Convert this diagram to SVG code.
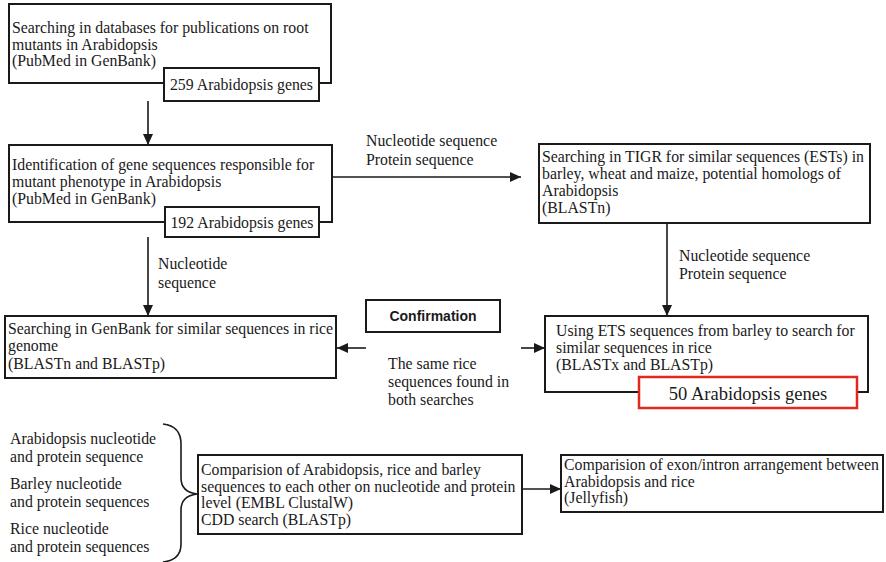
<svg xmlns="http://www.w3.org/2000/svg" width="886" height="562" viewBox="0 0 886 562">
<style>
.box{fill:#fff;stroke:#1a1a1a;stroke-width:2}
.red{fill:#fff;stroke:#e02a1e;stroke-width:2.5}
.t{font-family:"Liberation Serif","Times New Roman",serif;font-size:15.8px;fill:#1a1a1a}
.big{font-family:"Liberation Serif","Times New Roman",serif;font-size:18.5px;fill:#1a1a1a}
.b{font-family:"Liberation Sans",Arial,sans-serif;font-size:14px;font-weight:bold;fill:#1a1a1a}
.c{stroke:#1a1a1a;stroke-width:1.6;fill:none}
</style>
<defs>
<marker id="ah" markerUnits="userSpaceOnUse" markerWidth="11" markerHeight="10" refX="11" refY="5" orient="auto">
<path d="M0,0 L11,5 L0,10 z" fill="#1a1a1a"/>
</marker>
</defs>

<g id="connectors">
<line class="c" x1="148" y1="101" x2="148" y2="145" marker-end="url(#ah)"/>
<line class="c" x1="332" y1="177" x2="521" y2="177" marker-end="url(#ah)"/>
<line class="c" x1="148" y1="237" x2="148" y2="316" marker-end="url(#ah)"/>
<line class="c" x1="667" y1="223" x2="667" y2="316" marker-end="url(#ah)"/>
<line class="c" x1="366" y1="348" x2="337" y2="348" marker-end="url(#ah)"/>
<line class="c" x1="521" y1="348" x2="545" y2="348" marker-end="url(#ah)"/>
<line class="c" x1="522" y1="489" x2="561" y2="489" marker-end="url(#ah)"/>
<path class="c" d="M163 424 Q181 426 181 444 L181 478 Q181 492 197 494 Q181 496 181 510 L181 544 Q181 560 163 562"/>
</g>

<g id="n1">
<rect class="box" x="9" y="4" width="322" height="79"/>
<text class="t" x="12" y="33">Searching in databases for publications on root</text>
<text class="t" x="12" y="50">mutants in Arabidopsis</text>
<text class="t" x="12" y="66">(PubMed in GenBank)</text>
</g>
<g id="n1b">
<rect class="box" x="164" y="68" width="155" height="33"/>
<text class="t" x="241.5" y="90" text-anchor="middle">259 Arabidopsis genes</text>
</g>

<g id="n2">
<rect class="box" x="9" y="145" width="323" height="77"/>
<text class="t" x="12" y="170">Identification of gene sequences responsible for</text>
<text class="t" x="12" y="187">mutant phenotype in Arabidopsis</text>
<text class="t" x="12" y="204">(PubMed in GenBank)</text>
</g>
<g id="n2b">
<rect class="box" x="165" y="207" width="154" height="30"/>
<text class="t" x="242" y="228" text-anchor="middle">192 Arabidopsis genes</text>
</g>

<g id="l1">
<text class="t" x="366" y="146">Nucleotide sequence</text>
<text class="t" x="366" y="165">Protein sequence</text>
</g>

<g id="n3">
<rect class="box" x="539" y="144" width="331" height="79"/>
<text class="t" x="542" y="162">Searching in TIGR for similar sequences (ESTs) in</text>
<text class="t" x="542" y="179">barley, wheat and maize, potential homologs of</text>
<text class="t" x="542" y="196">Arabidopsis</text>
<text class="t" x="542" y="213">(BLASTn)</text>
</g>

<g id="l2">
<text class="t" x="679" y="261">Nucleotide sequence</text>
<text class="t" x="679" y="279">Protein sequence</text>
</g>

<g id="l3">
<text class="t" x="158" y="269">Nucleotide</text>
<text class="t" x="158" y="288">sequence</text>
</g>

<g id="n4">
<rect class="box" x="5" y="316" width="331" height="62"/>
<text class="t" x="8" y="334">Searching in GenBank for similar sequences in rice</text>
<text class="t" x="8" y="351">genome</text>
<text class="t" x="8" y="369">(BLASTn and BLASTp)</text>
</g>

<g id="confirm">
<rect class="box" x="366" y="300" width="134" height="32"/>
<text class="b" x="433" y="321" text-anchor="middle">Confirmation</text>
</g>

<g id="l4">
<text class="t" x="388" y="369">The same rice</text>
<text class="t" x="388" y="387">sequences found in</text>
<text class="t" x="388" y="405">both searches</text>
</g>

<g id="n5">
<rect class="box" x="545" y="316" width="323" height="76"/>
<text class="t" x="556" y="336">Using ETS sequences from barley to search for</text>
<text class="t" x="556" y="353">similar sequences in rice</text>
<text class="t" x="556" y="370">(BLASTx and BLASTp)</text>
</g>
<g id="n5b">
<rect class="red" x="639" y="377" width="218" height="31"/>
<text class="big" x="748" y="400" text-anchor="middle">50 Arabidopsis genes</text>
</g>

<g id="inputs">
<text class="t" x="10" y="444">Arabidopsis nucleotide</text>
<text class="t" x="10" y="462">and protein sequence</text>
<text class="t" x="10" y="489">Barley nucleotide</text>
<text class="t" x="10" y="507">and protein sequences</text>
<text class="t" x="10" y="534">Rice nucleotide</text>
<text class="t" x="10" y="552">and protein sequences</text>
</g>

<g id="n6">
<rect class="box" x="198" y="455" width="324" height="79"/>
<text class="t" x="201" y="475">Comparision of Arabidopsis, rice and barley</text>
<text class="t" x="201" y="492">sequences to each other on nucleotide and protein</text>
<text class="t" x="201" y="508">level (EMBL ClustalW)</text>
<text class="t" x="201" y="525">CDD search (BLASTp)</text>
</g>

<g id="n7">
<rect class="box" x="561" y="455" width="322" height="57"/>
<text class="t" x="564" y="470">Comparision of exon/intron arrangement between</text>
<text class="t" x="564" y="487">Arabidopsis and rice</text>
<text class="t" x="564" y="503">(Jellyfish)</text>
</g>
</svg>
